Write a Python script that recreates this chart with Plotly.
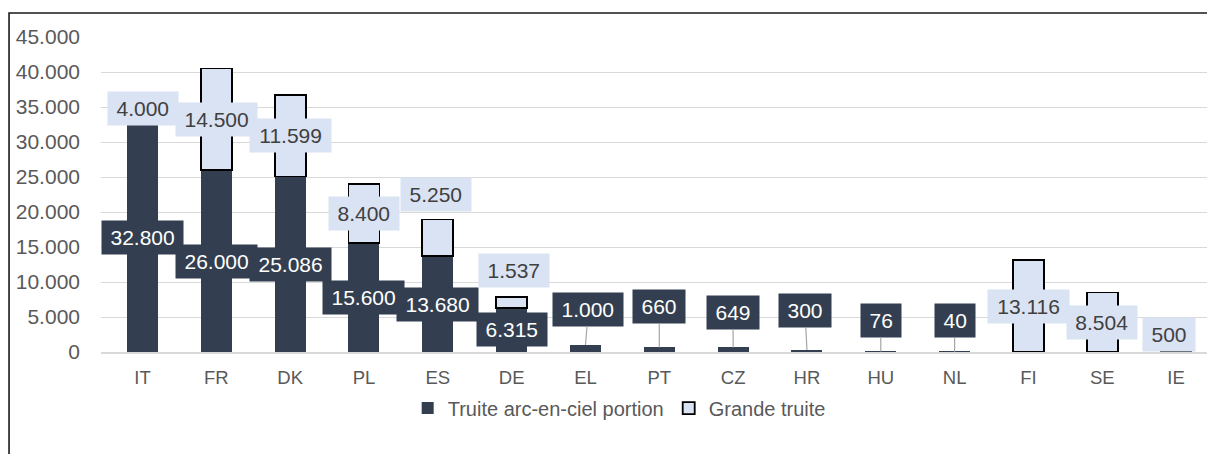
import plotly.graph_objects as go

countries = ["IT", "FR", "DK", "PL", "ES", "DE", "EL", "PT", "CZ", "HR", "HU", "NL", "FI", "SE", "IE"]
portion = [32800, 26000, 25086, 15600, 13680, 6315, 1000, 660, 649, 300, 76, 40, None, None, None]
grande = [4000, 14500, 11599, 8400, 5250, 1537, None, None, None, None, None, None, 13116, 8504, 500]

DARK = "#333F50"
LIGHT = "#DAE3F3"
GREY_TXT = "#595959"
LBL_SIZE = 21


def fmt(v):
    return f"{v:,}".replace(",", ".")


def box_w(s):
    # approximate text width (Arial metrics) plus inner padding
    digits = sum(ch.isdigit() for ch in s)
    dots = s.count(".")
    return (digits * 0.556 + dots * 0.278) * LBL_SIZE + 9


# label placement tweaks (pixels), Excel-style moved labels
dark_leaders = {"EL": (3, -36), "PT": (0, -41), "CZ": (0, -35), "HR": (-2, -39), "HU": (0, -31), "NL": (0, -31)}
light_above = {"ES": (-2, 25), "DE": (2, 27), "IE": (-7, 14)}

fig = go.Figure()
fig.add_trace(go.Bar(x=countries, y=portion, name="Truite arc-en-ciel portion",
                     marker=dict(color=DARK, line=dict(width=0))))
fig.add_trace(go.Bar(x=countries, y=grande, name="Grande truite",
                     marker=dict(color=LIGHT, line=dict(color="#000000", width=1.8))))

lbl_font_dark = dict(family="Liberation Sans, Arial", size=LBL_SIZE, color="#FFFFFF")
lbl_font_light = dict(family="Liberation Sans, Arial", size=LBL_SIZE, color="#404040")

for c, p, g in zip(countries, portion, grande):
    if p is not None:
        txt = fmt(p)
        if c in dark_leaders:
            ax, ay = dark_leaders[c]
            fig.add_annotation(x=c, y=p, text=txt, showarrow=True, ax=ax, ay=ay,
                               arrowhead=0, arrowwidth=1.2, arrowcolor="#A6A6A6", standoff=0,
                               width=box_w(txt), height=25, borderpad=4,
                               bgcolor=DARK, font=lbl_font_dark)
        else:
            fig.add_annotation(x=c, y=p / 2, text=txt, showarrow=False,
                               width=box_w(txt), height=25, borderpad=4,
                               bgcolor=DARK, font=lbl_font_dark)
    if g is not None:
        base = p or 0
        txt = fmt(g)
        if c in light_above:
            xs, ys = light_above[c]
            fig.add_annotation(x=c, y=base + g, text=txt, showarrow=False, xshift=xs, yshift=ys,
                               width=box_w(txt), height=25, borderpad=4,
                               bgcolor=LIGHT, font=lbl_font_light)
        else:
            fig.add_annotation(x=c, y=base + g / 2, text=txt, showarrow=False,
                               width=box_w(txt), height=25, borderpad=4,
                               bgcolor=LIGHT, font=lbl_font_light)

# outer chart border (only top/left visible in the frame)
fig.add_shape(type="rect", xref="paper", yref="paper", x0=-0.0827, x1=1.02, y0=-0.40, y1=1.0762,
              line=dict(color="#1a1a1a", width=1.6), fillcolor="rgba(0,0,0,0)", layer="above")

fig.update_layout(
    width=1207, height=446,
    margin=dict(l=93, r=2, t=29, b=102),
    barmode="stack", bargap=0.58,
    separators=",.",
    plot_bgcolor="white", paper_bgcolor="white",
    font=dict(family="Liberation Sans, Arial", color=GREY_TXT),
    showlegend=True,
    legend=dict(orientation="h", x=0.466, xanchor="center", y=-0.178, yanchor="middle",
                font=dict(size=20, color=GREY_TXT), traceorder="normal"),
)
fig.update_yaxes(range=[0, 45000], dtick=5000, tickformat=",", showgrid=True,
                 gridcolor="#D9D9D9", gridwidth=1, zeroline=False,
                 tickfont=dict(size=21, color=GREY_TXT), ticklabelstandoff=20)
fig.update_xaxes(type="category", showline=True, linecolor="#D9D9D9", linewidth=1.5,
                 showgrid=False, tickfont=dict(size=18.5, color=GREY_TXT), ticklabelstandoff=8)

fig.write_html("out.html")
